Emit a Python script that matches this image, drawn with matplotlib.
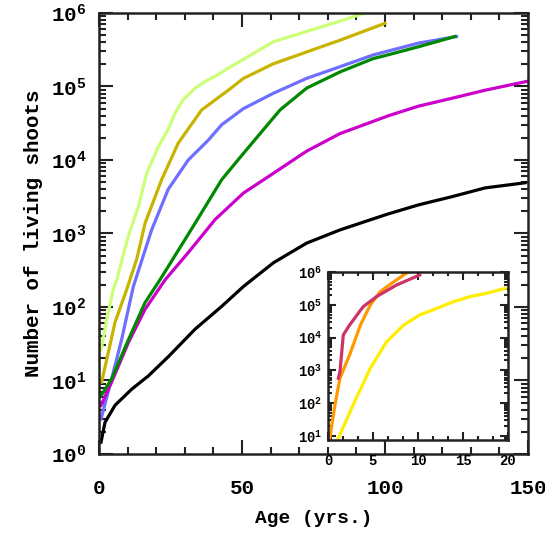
import matplotlib
matplotlib.use("Agg")
import matplotlib.pyplot as plt
from matplotlib.ticker import LogLocator, MultipleLocator, NullFormatter, LogFormatterSciNotation

plt.rcParams["font.family"] = ["Liberation Mono", "DejaVu Sans Mono"]
plt.rcParams["font.weight"] = "bold"
plt.rcParams["axes.labelweight"] = "bold"
plt.rcParams["mathtext.fontset"] = "custom"
plt.rcParams["mathtext.rm"] = "Liberation Mono:bold"

# main panel: age (yrs) vs number of living shoots
lg_age = [0.7, 2.7, 5.0, 6.2, 10.2, 13.8, 16.7, 20.7, 24.1, 26.6, 29.4, 33.6, 37.1, 40.6, 45.2, 50.5, 61, 72.6, 84.3, 93]
lg_n = [26, 68, 174, 234, 912, 2340, 6600, 15100, 25700, 43600, 66000, 95000, 117000, 138000, 178000, 234000,
        407000, 562000, 776000, 1000000]

ol_age = [0.9, 3.8, 5.6, 9.7, 13.2, 16.1, 21.9, 27.7, 35.9, 45.2, 50.5, 61, 72.6, 84.3, 100]
ol_n = [9.5, 30, 62, 174, 450, 1380, 5400, 17000, 48000, 89000, 129000, 204000, 295000, 427000, 724000]

bl_age = [0.7, 4.4, 7.9, 12.0, 18.4, 24.2, 31.2, 38.2, 42.9, 50.5, 61, 72.6, 84.3, 95.9, 111.7, 125]
bl_n = [3, 10.5, 36, 190, 1120, 4000, 10000, 18600, 30200, 50000, 81000, 129000, 186000, 269000, 389000, 479000]

gr_age = [0.7, 4.4, 10.3, 16.1, 21.3, 24.2, 33.6, 42.9, 50.5, 63.3, 72.6, 84.3, 95.9, 100, 111.7, 124.5]
gr_n = [6.2, 10.5, 36, 115, 234, 355, 1380, 5400, 12300, 48000, 95000, 158000, 240000, 263000, 347000, 479000]

mg_age = [0.7, 4.4, 10.3, 16.1, 23.1, 31.2, 40.6, 50.5, 61, 72.6, 84.3, 101.2, 111.7, 123.3, 135, 149.5]
mg_n = [4.6, 9.5, 33, 93, 234, 550, 1550, 3550, 6600, 13200, 22900, 40000, 54000, 69000, 89000, 117000]

bk_age = [0.7, 2.1, 5.6, 11.4, 17.2, 24.2, 33.6, 42.9, 50.5, 61, 72.6, 84.3, 100.6, 111.7, 123.3, 135, 149]
bk_n = [1.45, 2.7, 4.6, 7.6, 11.5, 21, 50, 102, 190, 400, 740, 1120, 1820, 2450, 3160, 4170, 4900]

# inset panel
cr_age = [1.15, 1.33, 1.7, 2.4, 3.9, 5.4, 7.6, 10.2]
cr_n = [575, 910, 12000, 24000, 87000, 178000, 398000, 813000]

or_age = [0.2, 0.78, 1.33, 2.4, 3.6, 4.7, 5.8, 7.3, 8.9]
or_n = [8.5, 89, 575, 2950, 24000, 98000, 251000, 501000, 1000000]

ye_age = [1.15, 2.8, 4.7, 6.5, 8.4, 10.2, 12.1, 13.9, 15.8, 17.6, 19.7]
ye_n = [8.5, 89, 1150, 7400, 24000, 49000, 78000, 123000, 178000, 224000, 316000]


def style_axes(ax, fs, pad_x, pad_y, major_len, minor_len):
    ax.set_yscale("log")
    ax.yaxis.set_major_locator(LogLocator(base=10, numticks=20))
    ax.yaxis.set_minor_locator(LogLocator(base=10, subs=range(2, 10), numticks=20))
    ax.yaxis.set_major_formatter(LogFormatterSciNotation())
    ax.yaxis.set_minor_formatter(NullFormatter())
    ax.tick_params(which="both", direction="in", top=True, right=True, width=1.5, color="#222222")
    ax.tick_params(which="major", length=major_len)
    ax.tick_params(which="minor", length=minor_len)
    ax.tick_params(axis="x", labelsize=fs, pad=pad_x)
    ax.tick_params(axis="y", labelsize=fs, pad=pad_y)
    for s in ax.spines.values():
        s.set_linewidth(1.8)
        s.set_color("#222222")


fig = plt.figure(figsize=(5.45, 5.37), dpi=100)
ax = fig.add_axes([0.1817, 0.1546, 0.7871, 0.8212])

lw = 2.3
ax.plot(lg_age, lg_n, color="#ccff77", lw=lw)
ax.plot(ol_age, ol_n, color="#c8b400", lw=lw)
ax.plot(bl_age, bl_n, color="#6e6eff", lw=lw)
ax.plot(mg_age, mg_n, color="#cc00cc", lw=lw)
ax.plot(gr_age, gr_n, color="#008800", lw=lw)
ax.plot(bk_age, bk_n, color="black", lw=lw)

ax.set_xlim(0, 150)
ax.set_ylim(1, 1e6)
style_axes(ax, 15, 18, 9, 10, 5)
ax.xaxis.set_major_locator(MultipleLocator(50))
ax.xaxis.set_minor_locator(MultipleLocator(10))
ax.set_xlabel("Age (yrs.)", fontsize=14, labelpad=9)
ax.set_ylabel("Number of living shoots", fontsize=15, labelpad=6)

# inset with the first 20 years
axi = fig.add_axes([0.6018, 0.1806, 0.3303, 0.3129])
axi.set_facecolor("white")
axi.plot(ye_age, ye_n, color="#ffee00", lw=lw)
axi.plot(or_age, or_n, color="#ff9900", lw=lw)
axi.plot(cr_age, cr_n, color="#cc3366", lw=lw)
axi.set_xlim(0, 20)
axi.set_ylim(7.5, 1e6)
style_axes(axi, 10, 10, 4, 6, 3)
axi.xaxis.set_major_locator(MultipleLocator(5))
axi.xaxis.set_minor_locator(MultipleLocator(5 / 3))

fig.savefig("out.png", dpi=100)
